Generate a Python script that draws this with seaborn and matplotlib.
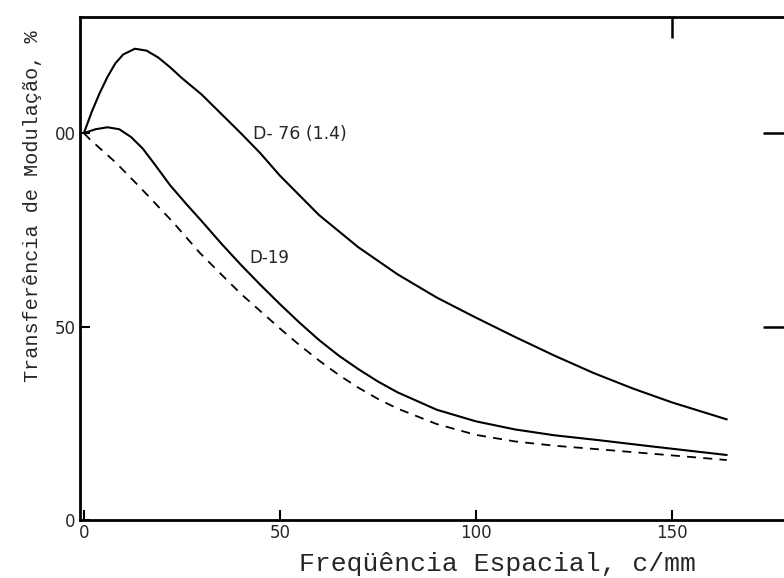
import numpy as np
import pandas as pd
import matplotlib
matplotlib.use("Agg")
import matplotlib.pyplot as plt
import seaborn as sns

# ---- curve values ----
freq_d76 = [0, 2, 4, 6, 8, 10, 13, 16, 19, 22, 25, 30, 35, 40, 45, 50, 60, 70, 80,
            90, 100, 110, 120, 130, 140, 150, 164]
mtf_d76 = [100, 105.5, 110.3, 114.5, 118, 120.3, 121.8, 121.3, 119.5, 117, 114.2, 110,
           105, 100, 94.8, 89, 78.8, 70.5, 63.5, 57.5, 52.3, 47.3, 42.5, 38, 34, 30.4, 26]

freq_d19 = [0, 3, 6, 9, 12, 15, 18, 22, 26, 30, 35, 40, 45, 50, 55, 60, 65, 70, 75,
            80, 90, 100, 110, 120, 131.6, 145, 164]
mtf_d19 = [100, 101, 101.5, 101, 99, 96, 92, 86.5, 81.8, 77.3, 71.5, 66, 60.8, 55.8,
           51, 46.5, 42.5, 39, 35.8, 33, 28.5, 25.5, 23.4, 21.9, 20.6, 19, 16.8]

freq_dash = [0, 1.5, 8, 14.3, 22.7, 29.6, 36.5, 40, 45, 50, 55, 60, 65, 70, 75, 80,
             90, 100, 110, 120, 133.4, 150, 164]
mtf_dash = [100, 98.4, 92.5, 86, 77, 69, 62, 58.5, 54, 49.5, 45.2, 41.2, 37.5, 34.2,
            31.3, 28.8, 24.8, 22, 20.3, 19.2, 18.1, 16.7, 15.5]

x_ticks = [0, 50, 100, 150]
x_ticklabels = ["0", "50", "100", "150"]
y_ticks = [0, 50, 100]
y_ticklabels = ["0", "50", "00"]

sns.set_theme(style="ticks")
plt.rcParams["font.family"] = ["DejaVu Sans"]

fig = plt.figure(figsize=(7.84, 5.78), dpi=100)
ax = fig.add_axes([80 / 784, 58 / 578, 1 - 80 / 784, (520 - 17) / 578])

sns.lineplot(x=freq_d76, y=mtf_d76, ax=ax, color="black", lw=1.5, sort=False)
sns.lineplot(x=freq_d19, y=mtf_d19, ax=ax, color="black", lw=1.5, sort=False)
sns.lineplot(x=freq_dash, y=mtf_dash, ax=ax, color="black", lw=1.3, sort=False,
             linestyle=(0, (5, 4)))

ax.set_xlim(-1, 178.6)
ax.set_ylim(0, 130)

# frame: left, bottom and top lines only (right edge falls off the scan)
for side in ["left", "bottom", "top"]:
    ax.spines[side].set_linewidth(2)
    ax.spines[side].set_color("black")
ax.spines["right"].set_visible(False)

ax.set_xticks(x_ticks)
ax.set_xticklabels(x_ticklabels, fontsize=12)
ax.set_yticks(y_ticks)
ax.set_yticklabels(y_ticklabels, fontsize=12)
ax.tick_params(axis="both", direction="in", length=7, width=1.5, color="black", pad=3)

# stray inward ticks on the top and right borders
top = ax.secondary_xaxis("top")
top.set_xticks([150])
top.set_xticklabels([])
top.tick_params(direction="in", length=15, width=1.8, color="black")
top.spines["top"].set_visible(False)

right = ax.secondary_yaxis("right")
right.set_yticks([50, 100])
right.set_yticklabels([])
right.tick_params(direction="in", length=15, width=1.8, color="black")
right.spines["right"].set_visible(False)

ax.text(43.1, 99.7, "D- 76 (1.4)", fontsize=12.5, va="center", ha="left")
ax.text(42.3, 67.7, "D-19", fontsize=12, va="center", ha="left")

ax.set_xlabel("")
ax.set_ylabel("")
fig.text(0.634, 0.024, "Freqüência Espacial, c/mm", family="Liberation Mono",
         fontsize=19, ha="center", va="center")
fig.text(0.041, 0.644, "Transferência de Modulação, %", family="Liberation Mono",
         fontsize=14.5, ha="center", va="center", rotation=90)

fig.savefig("out.png", dpi=100)
